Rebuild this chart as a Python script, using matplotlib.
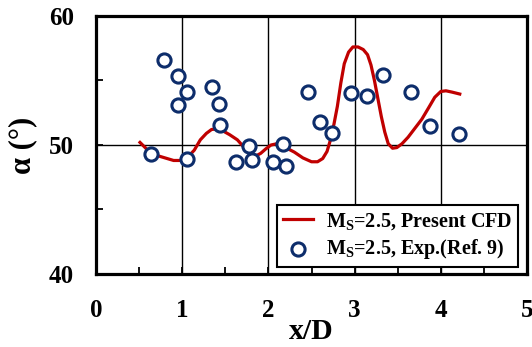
import numpy as np
import matplotlib
matplotlib.use('Agg')
import matplotlib.pyplot as plt
from matplotlib.ticker import MultipleLocator

# CFD curve, M_S = 2.5
cfd_x = [0.51, 0.60, 0.70, 0.80, 0.90, 0.98, 1.07, 1.14, 1.21, 1.28, 1.34, 1.40,
         1.47, 1.55, 1.64, 1.72, 1.78, 1.84, 1.91, 1.97, 2.03, 2.10, 2.20, 2.30,
         2.40, 2.50, 2.57, 2.63, 2.68, 2.72, 2.76, 2.80, 2.84, 2.88, 2.93, 2.98,
         3.04, 3.10, 3.15, 3.19, 3.23, 3.27, 3.31, 3.35, 3.39, 3.44, 3.49, 3.55,
         3.62, 3.70, 3.78, 3.86, 3.93, 4.00, 4.06, 4.13, 4.22]
cfd_y = [50.2, 49.6, 49.2, 49.0, 48.8, 48.8, 49.1, 49.6, 50.4, 50.9, 51.2, 51.25,
         51.1, 50.8, 50.4, 49.8, 49.3, 49.1, 49.35, 49.7, 50.0, 50.1, 49.8, 49.45,
         49.0, 48.7, 48.7, 48.95, 49.5, 50.4, 51.6, 53.0, 54.8, 56.3, 57.2, 57.6,
         57.6, 57.4, 57.0, 56.2, 55.0, 53.6, 52.2, 51.0, 50.1, 49.75, 49.8, 50.1,
         50.6, 51.3, 52.0, 52.9, 53.7, 54.15, 54.2, 54.1, 53.95]

# experiment (Ref. 9)
exp_x = [0.64, 0.79, 0.95, 0.95, 1.06, 1.06, 1.34, 1.43, 1.44, 1.62, 1.78, 1.81,
         2.05, 2.17, 2.20, 2.46, 2.60, 2.74, 2.96, 3.14, 3.33, 3.66, 3.88, 4.21]
exp_y = [49.3, 56.6, 55.35, 53.1, 54.1, 48.9, 54.5, 53.2, 51.55, 48.7, 49.9, 48.8,
         48.7, 50.05, 48.4, 54.1, 51.8, 50.9, 54.05, 53.8, 55.4, 54.1, 51.5, 50.85]

plt.rcParams['font.family'] = 'Liberation Serif'
plt.rcParams['font.weight'] = 'bold'
plt.rcParams['mathtext.fontset'] = 'custom'
plt.rcParams['mathtext.rm'] = 'Liberation Serif:bold'
plt.rcParams['mathtext.it'] = 'Liberation Serif:bold'
plt.rcParams['mathtext.bf'] = 'Liberation Serif:bold'

fig = plt.figure(figsize=(5.32, 3.47), dpi=100)
ax = fig.add_axes([0.1805, 0.2104, 0.8101, 0.7435])

ax.plot(cfd_x, cfd_y, color='#c00000', linewidth=2.3, zorder=3,
        label=r'M$_\mathrm{S}$=2.5, Present CFD')
ax.scatter(exp_x, exp_y, s=90, facecolor='white', edgecolor='#0d2d6b',
           linewidth=2.2, zorder=4, label=r'M$_\mathrm{S}$=2.5, Exp.(Ref. 9)')

ax.set_xlim(0, 5)
ax.set_ylim(40, 60)
ax.xaxis.set_major_locator(MultipleLocator(1))
ax.xaxis.set_minor_locator(MultipleLocator(0.5))
ax.yaxis.set_major_locator(MultipleLocator(10))
ax.yaxis.set_minor_locator(MultipleLocator(5))
ax.tick_params(which='both', direction='in', top=False, right=False)
ax.tick_params(which='major', length=5, width=1.3, labelsize=18)
ax.tick_params(which='minor', length=5, width=1.3)
ax.tick_params(axis='x', which='major', pad=18)
ax.tick_params(axis='y', which='major', pad=16)
ax.grid(True, which='major', color='black', linewidth=1.0)
ax.set_axisbelow(True)
for s in ax.spines.values():
    s.set_linewidth(2.3)

ax.set_xlabel('x/D', fontsize=21.5, fontweight='bold', labelpad=-3)
ax.set_ylabel('α (°)', fontsize=22, fontweight='bold', labelpad=8)

leg = ax.legend(loc='lower right', fontsize=14.5, frameon=True, fancybox=False,
                edgecolor='black', framealpha=1, handlelength=1.5,
                borderpad=0.3, labelspacing=0.25, handletextpad=0.6,
                borderaxespad=0, bbox_to_anchor=(0.979, 0.027))
leg.get_frame().set_linewidth(1.5)

fig.savefig('out.png', dpi=100)
